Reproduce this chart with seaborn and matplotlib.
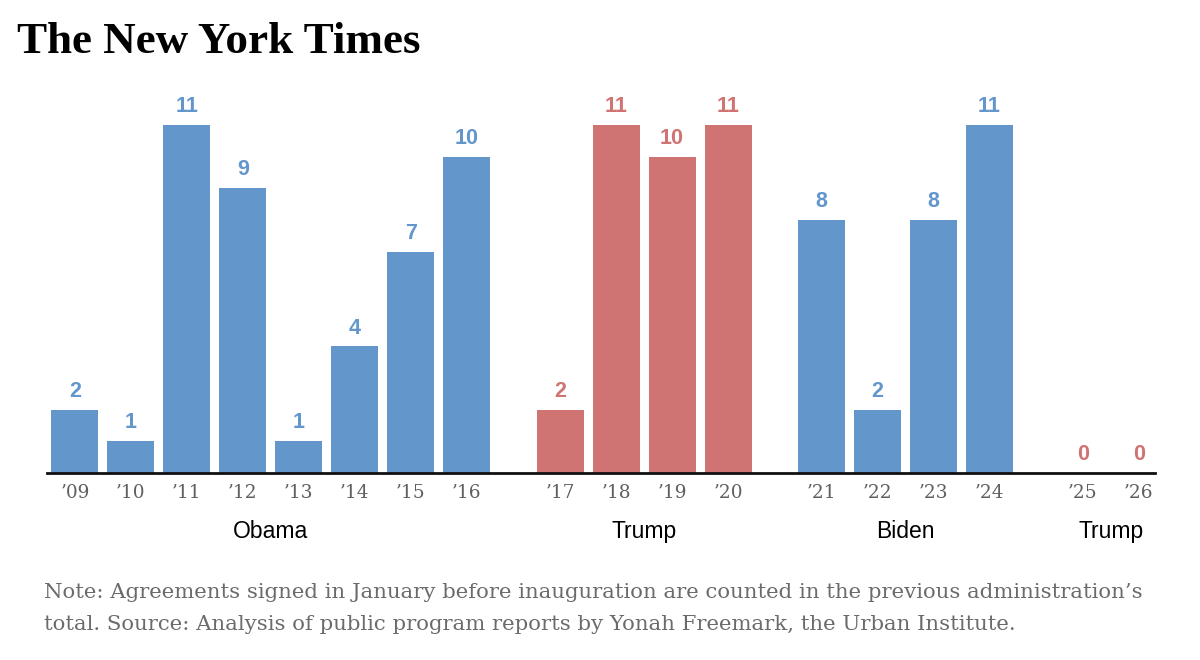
import matplotlib
matplotlib.use("Agg")
import matplotlib.pyplot as plt
import seaborn as sns
import numpy as np
import pandas as pd

years = ["’09", "’10", "’11", "’12", "’13", "’14", "’15", "’16",
         "’17", "’18", "’19", "’20",
         "’21", "’22", "’23", "’24",
         "’25", "’26"]
values = [2, 1, 11, 9, 1, 4, 7, 10,
          2, 11, 10, 11,
          8, 2, 8, 11,
          0, 0]
admin_group = [0]*8 + [1]*4 + [2]*4 + [3]*2
admin_names = ["Obama", "Trump", "Biden", "Trump"]
party = ["D"]*8 + ["R"]*4 + ["D"]*4 + ["R"]*2

BLUE = "#6396cb"
RED = "#cf7472"
palette = {"D": BLUE, "R": RED}

GAP = 0.67
pos = [i + GAP*g for i, g in enumerate(admin_group)]
df = pd.DataFrame({"pos": pos, "value": values, "party": party, "year": years})

sns.set_theme(style="white")
fig = plt.figure(figsize=(12, 6.6), dpi=100)
x0, x1 = 47/1200, 1155/1200
base = (660-473)/660
unit_px = 348/11
ax = fig.add_axes([x0, base, x1-x0, 12*unit_px/660])

sns.barplot(data=df, x="pos", y="value", hue="party", palette=palette,
            native_scale=True, width=0.84, dodge=False, legend=False,
            saturation=1, ax=ax, linewidth=0)

ax.set_xlim(-0.5, 19.3)
ax.set_ylim(0, 12)
for s in ["top", "right", "left"]:
    ax.spines[s].set_visible(False)
ax.spines["bottom"].set_color("#111111")
ax.spines["bottom"].set_linewidth(2)
ax.set_yticks([])
ax.set_xlabel("")
ax.set_ylabel("")
ax.set_xticks(pos)
ax.set_xticklabels(years, fontfamily="DejaVu Serif", fontsize=13.3, color="#5f5f5f")
ax.tick_params(axis="x", length=0, pad=8)

for p, v, pt in zip(pos, values, party):
    ax.text(p, v + 0.25, str(v), ha="center", va="bottom", fontsize=15.5,
            fontweight="bold", color=palette[pt], fontfamily="Liberation Sans")

for g, name in enumerate(admin_names):
    ps = [p for p, gg in zip(pos, admin_group) if gg == g]
    c = (min(ps) + max(ps)) / 2
    ax.text(c, -1.85, name, ha="center", va="center", fontsize=16.5,
            color="black", fontfamily="Liberation Sans")

fig.text(17/1200, 1 - 42/660, "The New York Times", fontsize=32.5, fontweight="bold",
         fontfamily="Liberation Serif", va="center", ha="left", color="black")

fig.text(44/1200, 1 - 593/660,
         "Note: Agreements signed in January before inauguration are counted in the previous administration’s",
         fontsize=15.35, fontfamily="DejaVu Serif", color="#6b6b6b", va="center", ha="left")
fig.text(44/1200, 1 - 624/660,
         "total. Source: Analysis of public program reports by Yonah Freemark, the Urban Institute.",
         fontsize=15.35, fontfamily="DejaVu Serif", color="#6b6b6b", va="center", ha="left")

fig.savefig("out.png", dpi=100, facecolor="white")
